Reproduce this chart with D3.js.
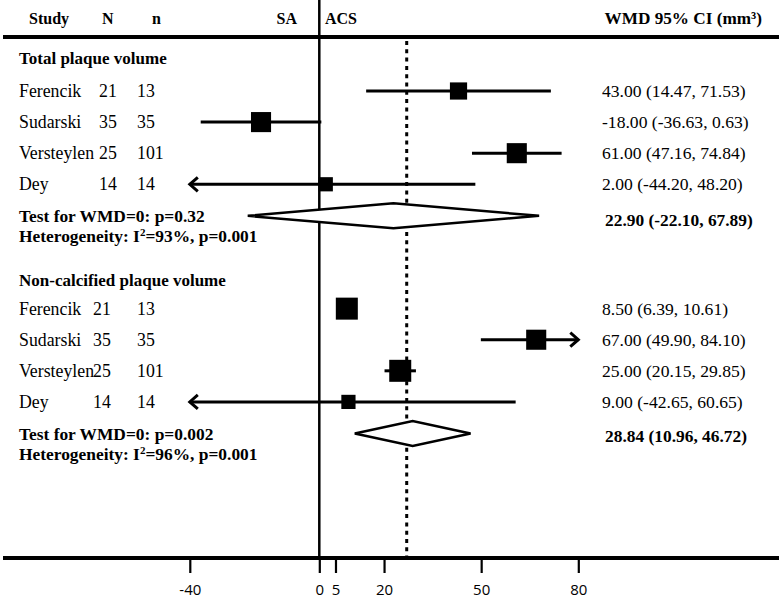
<!DOCTYPE html>
<html>
<head>
<meta charset="utf-8">
<script src="https://cdn.jsdelivr.net/npm/d3@7"></script>
<style>
  html, body { margin: 0; padding: 0; background: #fff; }
  svg { display: block; }
</style>
</head>
<body>
<div id="chart"></div>
<script>
// ---------- DATA ----------
const studies = ["Ferencik", "Sudarski", "Versteylen", "Dey"];

const totalN = [21, 35, 25, 14];
const totalSmallN = [13, 35, 101, 14];
const totalWMD = [43.00, -18.00, 61.00, 2.00];
const totalLo = [14.47, -36.63, 47.16, -44.20];
const totalHi = [71.53, 0.63, 74.84, 48.20];
const totalWeight = [22, 30, 30, 15];
const totalPooled = [22.90, -22.10, 67.89];
const totalTestP = "0.32";
const totalI2 = "93%";
const totalHetP = "0.001";

const ncN = [21, 35, 25, 14];
const ncSmallN = [13, 35, 101, 14];
const ncWMD = [8.50, 67.00, 25.00, 9.00];
const ncLo = [6.39, 49.90, 20.15, -42.65];
const ncHi = [10.61, 84.10, 29.85, 60.65];
const ncWeight = [36, 30, 36, 15];
const ncPooled = [28.84, 10.96, 46.72];
const ncTestP = "0.002";
const ncI2 = "96%";
const ncHetP = "0.001";

const sectionTitles = ["Total plaque volume", "Non-calcified plaque volume"];
const headerLabels = ["Study", "N", "n", "SA", "ACS", "WMD 95% CI (mm\u00B3)"];
const tickValues = [-40, 0, 5, 20, 50, 80];
const referenceLine = 0;
const overallLine = 27;
const plotLimits = [-40, 80];

// ---------- LAYOUT ----------
const W = 779, H = 598;
const serif = "'Liberation Serif', 'Times New Roman', serif";

const svg = d3.select("#chart").append("svg")
  .attr("width", W).attr("height", H)
  .attr("viewBox", `0 0 ${W} ${H}`);

const x = d3.scaleLinear().domain(plotLimits).range([189.8, 578.3]);
const y = d3.scaleLinear().domain([0, 11]).range([91, 433]);
const boxSide = d3.scaleSqrt().domain([0, 36]).range([0, 22]);

const axisY = 558;
const fmt = v => v.toFixed(2);   // plain hyphen-minus like the original

// Header
const hdr = svg.append("g").attr("font-family", serif).attr("font-weight", "bold")
  .attr("font-size", 16).attr("fill", "#000");
hdr.append("text").attr("x", 29).attr("y", 24).text(headerLabels[0]);
hdr.append("text").attr("x", 102).attr("y", 24).text(headerLabels[1]);
hdr.append("text").attr("x", 152).attr("y", 24).text(headerLabels[2]);
hdr.append("text").attr("x", 297).attr("y", 24).attr("text-anchor", "end").text(headerLabels[3]);
hdr.append("text").attr("x", 325).attr("y", 24).text(headerLabels[4]);
hdr.append("text").attr("x", 762).attr("y", 24).attr("text-anchor", "end")
  .attr("font-size", 17.2).text(headerLabels[5]);

// Top thick rule
svg.append("line").attr("x1", 3).attr("x2", W).attr("y1", 37).attr("y2", 37)
  .attr("stroke", "#000").attr("stroke-width", 4);

// Reference (zero) line
svg.append("line").attr("x1", x(referenceLine)).attr("x2", x(referenceLine))
  .attr("y1", 0).attr("y2", axisY).attr("stroke", "#000").attr("stroke-width", 2.5);

// Overall dashed line
svg.append("line").attr("x1", x(overallLine)).attr("x2", x(overallLine))
  .attr("y1", 41).attr("y2", axisY).attr("stroke", "#000").attr("stroke-width", 3)
  .attr("stroke-dasharray", "4,4.3");

// Axis
svg.append("line").attr("x1", 3).attr("x2", W).attr("y1", axisY).attr("y2", axisY)
  .attr("stroke", "#000").attr("stroke-width", 4);
const axis = d3.axisBottom(x).tickValues(tickValues).tickSize(15).tickPadding(11)
  .tickFormat(d => String(d));
const gAxis = svg.append("g").attr("transform", `translate(0,${axisY})`).call(axis);
gAxis.select(".domain").remove();
gAxis.selectAll(".tick line").attr("stroke", "#000").attr("stroke-width", 2.2);
gAxis.selectAll(".tick text").attr("font-family", "'Open Sans', 'DejaVu Sans', sans-serif")
  .attr("font-size", 15).attr("fill", "#000");

// ---------- SECTIONS ----------
function drawSection(cfg) {
  const g = svg.append("g");
  // title
  g.append("text").attr("x", 19).attr("y", y(cfg.titleIdx) + cfg.titleDy)
    .attr("font-family", serif).attr("font-weight", "bold").attr("font-size", 17)
    .text(cfg.title);

  studies.forEach((s, i) => {
    const yy = y(cfg.startIdx + i);
    const t = g.append("g").attr("font-family", serif).attr("font-size", 17.8);
    t.append("text").attr("x", 19).attr("y", yy + 6).text(s);
    t.append("text").attr("x", cfg.nX).attr("y", yy + 6).text(cfg.N[i]);
    t.append("text").attr("x", 137).attr("y", yy + 6).text(cfg.n[i]);

    // CI line (clipped to plot limits)
    const lo = Math.max(cfg.lo[i], plotLimits[0]);
    const hi = Math.min(cfg.hi[i], plotLimits[1]);
    g.append("line").attr("x1", x(lo)).attr("x2", x(hi)).attr("y1", yy).attr("y2", yy)
      .attr("stroke", "#000").attr("stroke-width", 3);
    if (cfg.lo[i] < plotLimits[0]) {
      const ax = x(plotLimits[0]);
      g.append("path").attr("d", `M${ax + 8},${yy - 7}L${ax},${yy}L${ax + 8},${yy + 7}`)
        .attr("fill", "none").attr("stroke", "#000").attr("stroke-width", 3);
    }
    if (cfg.hi[i] > plotLimits[1]) {
      const ax = x(plotLimits[1]);
      g.append("path").attr("d", `M${ax - 8},${yy - 7}L${ax},${yy}L${ax - 8},${yy + 7}`)
        .attr("fill", "none").attr("stroke", "#000").attr("stroke-width", 3);
    }
    const side = boxSide(cfg.w[i]);
    g.append("rect").attr("x", x(cfg.wmd[i]) - side / 2).attr("y", yy - side / 2)
      .attr("width", side).attr("height", side).attr("fill", "#000");

    g.append("text").attr("x", 602).attr("y", yy + 6)
      .attr("font-family", serif).attr("font-size", 17.6)
      .text(`${fmt(cfg.wmd[i])} (${fmt(cfg.lo[i])}, ${fmt(cfg.hi[i])})`);
  });

  // pooled diamond
  const dIdx = cfg.startIdx + studies.length;
  const dy = y(dIdx) + cfg.diamondDy;
  const p = cfg.pooled;
  g.append("path")
    .attr("d", `M${x(p[1])},${dy}L${x(p[0])},${dy - 12.5}L${x(p[2])},${dy}L${x(p[0])},${dy + 12.5}Z`)
    .attr("fill", "#fff").attr("stroke", "#000").attr("stroke-width", 2.5);

  const b = g.append("g").attr("font-family", serif).attr("font-weight", "bold").attr("font-size", 17.4);
  b.append("text").attr("x", 19).attr("y", y(dIdx) + cfg.testDy).text(`Test for WMD=0: p=${cfg.testP}`);
  const het = b.append("text").attr("x", 19).attr("y", y(dIdx) + cfg.testDy + 20);
  het.append("tspan").text("Heterogeneity: I");
  het.append("tspan").attr("font-size", 11).attr("dy", -6).text("2");
  het.append("tspan").attr("dy", 6).text(`=${cfg.i2}, p=${cfg.hetP}`);

  g.append("text").attr("x", 605).attr("y", y(dIdx) + cfg.sumDy)
    .attr("font-family", serif).attr("font-weight", "bold").attr("font-size", 17.4)
    .text(`${fmt(p[0])} (${fmt(p[1])}, ${fmt(p[2])})`);
}

drawSection({
  title: sectionTitles[0], titleIdx: -1, titleDy: 4, startIdx: 0, nX: 99,
  N: totalN, n: totalSmallN, wmd: totalWMD, lo: totalLo, hi: totalHi, w: totalWeight,
  pooled: totalPooled, testP: totalTestP, i2: totalI2, hetP: totalHetP,
  diamondDy: 0.5, testDy: 7, sumDy: 11
});
drawSection({
  title: sectionTitles[1], titleIdx: 6, titleDy: 8, startIdx: 7, nX: 93,
  N: ncN, n: ncSmallN, wmd: ncWMD, lo: ncLo, hi: ncHi, w: ncWeight,
  pooled: ncPooled, testP: ncTestP, i2: ncI2, hetP: ncHetP,
  diamondDy: 0.5, testDy: 7, sumDy: 9
});
</script>
</body>
</html>
